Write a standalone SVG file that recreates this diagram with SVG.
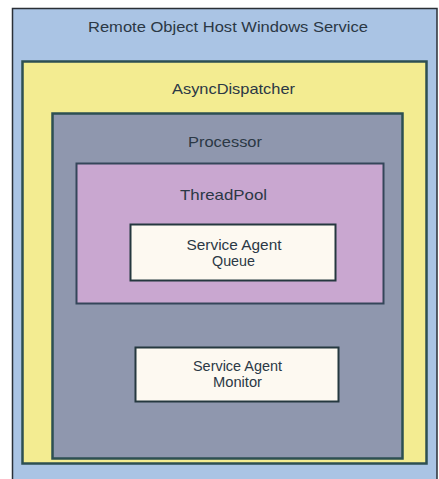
<svg xmlns="http://www.w3.org/2000/svg" width="439" height="479" viewBox="0 0 439 479">
<style>
.t{font-family:"Liberation Sans",Arial,sans-serif;font-size:15px;fill:#2b3845;text-anchor:middle}
.box{stroke:#2d4f52;stroke-width:2.5}
</style>
<rect x="0" y="0" width="439" height="479" fill="#ffffff"/>
<g id="host">
<rect x="12.5" y="8.5" width="424.5" height="480" fill="#aac4e4" stroke="#2a2f36" stroke-width="1.5"/>
<text class="t" x="228" y="32" textLength="280" lengthAdjust="spacingAndGlyphs">Remote Object Host Windows Service</text>
</g>
<g id="dispatcher">
<rect class="box" x="22.5" y="61.5" width="404" height="402" fill="#f3ec91" stroke-width="3"/>
<text class="t" x="233.5" y="94" textLength="123" lengthAdjust="spacingAndGlyphs">AsyncDispatcher</text>
</g>
<g id="processor">
<rect class="box" x="52.5" y="113.5" width="350" height="345" fill="#8f97ae"/>
<text class="t" x="225" y="147" textLength="74" lengthAdjust="spacingAndGlyphs">Processor</text>
</g>
<g id="threadpool">
<rect x="76.5" y="163.5" width="307" height="140" fill="#c9a7d0" stroke="#35465a" stroke-width="2"/>
<text class="t" x="223.5" y="200" textLength="87" lengthAdjust="spacingAndGlyphs">ThreadPool</text>
</g>
<g id="queue">
<rect x="130.5" y="224.5" width="205" height="56" fill="#fdf9f1" stroke="#25383f" stroke-width="2"/>
<text class="t" x="234" y="250" textLength="95" lengthAdjust="spacingAndGlyphs">Service Agent</text>
<text class="t" x="233.5" y="266" textLength="43" lengthAdjust="spacingAndGlyphs">Queue</text>
</g>
<g id="monitor">
<rect x="135.5" y="347.5" width="203" height="54" fill="#fdf9f1" stroke="#25383f" stroke-width="2"/>
<text class="t" x="237.5" y="371" textLength="89" lengthAdjust="spacingAndGlyphs">Service Agent</text>
<text class="t" x="237.5" y="387" textLength="49" lengthAdjust="spacingAndGlyphs">Monitor</text>
</g>
<g id="connectors"></g>
</svg>
